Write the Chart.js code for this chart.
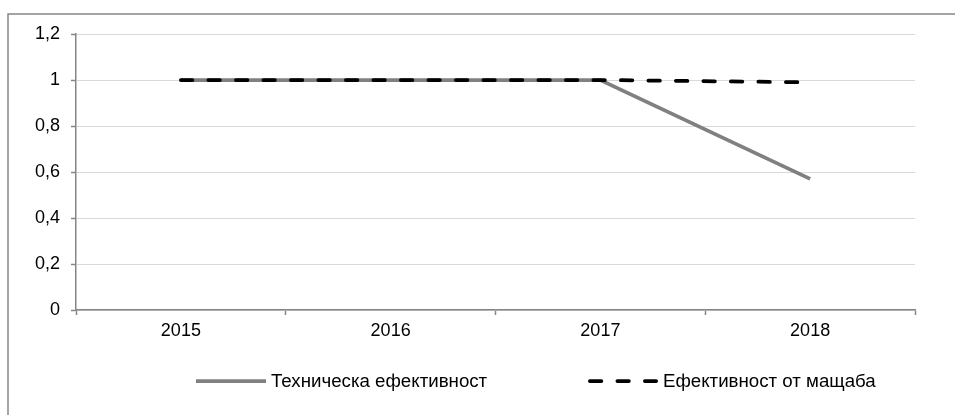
<!DOCTYPE html>
<html>
<head>
<meta charset="utf-8">
<script src="https://cdn.jsdelivr.net/npm/chart.js@4"></script>
<style>
  html, body { margin: 0; padding: 0; background: #ffffff; }
  #wrap { width: 955px; height: 415px; }
</style>
</head>
<body>
<div id="wrap"><canvas id="c" width="955" height="415"></canvas></div>
<script>
// Efficiency scores by year
const years = ['2015', '2016', '2017', '2018'];
const technicalEfficiency = [1, 1, 1, 0.57];
const scaleEfficiency = [1, 1, 1, 0.99];
const yTickLabels = ['0', '0,2', '0,4', '0,6', '0,8', '1', '1,2'];
const seriesNames = ['Техническа ефективност', 'Ефективност от мащаба'];

const FONT = '"Liberation Sans", Arial, sans-serif';
const AXIS = '#868686';

// Outer frame and bottom legend, drawn on the canvas after the chart
const frameAndLegend = {
  id: 'frameAndLegend',
  afterDraw(chart) {
    const ctx = chart.ctx;
    ctx.save();
    ctx.strokeStyle = AXIS;
    ctx.lineWidth = 1.5;
    ctx.strokeRect(8, 14, 1000, 500);

    ctx.font = '18.7px ' + FONT;
    ctx.fillStyle = '#000';
    ctx.textBaseline = 'middle';
    const y = 381;
    const items = [
      { ds: chart.data.datasets[0], x: 196 },
      { ds: chart.data.datasets[1], x: 588 }
    ];
    items.forEach(it => {
      ctx.save();
      ctx.strokeStyle = it.ds.borderColor;
      ctx.lineWidth = it.ds.borderWidth;
      ctx.lineCap = it.ds.borderCapStyle || 'butt';
      ctx.setLineDash(it.ds.borderDash || []);
      ctx.beginPath();
      const cap = ctx.lineCap === 'round' ? it.ds.borderWidth / 2 : 0;
      ctx.moveTo(it.x + cap, y);
      ctx.lineTo(it.x + 70 - cap, y);
      ctx.stroke();
      ctx.restore();
      ctx.fillText(it.ds.label, it.x + 75, y + 1);
    });
    ctx.restore();
  }
};

new Chart(document.getElementById('c'), {
  type: 'line',
  data: {
    labels: years,
    datasets: [
      {
        label: seriesNames[0],
        data: technicalEfficiency,
        borderColor: '#808080',
        borderWidth: 3.75,
        pointRadius: 0,
        tension: 0,
        order: 1
      },
      {
        label: seriesNames[1],
        data: scaleEfficiency,
        borderColor: '#000000',
        borderWidth: 3.75,
        borderDash: [11.5, 16],
        borderCapStyle: 'round',
        pointRadius: 0,
        tension: 0,
        order: 0
      }
    ]
  },
  options: {
    responsive: false,
    animation: false,
    devicePixelRatio: 1,
    layout: { padding: { top: 34, right: 40, left: 0, bottom: 0 } },
    plugins: {
      legend: { display: false },
      title: { display: false },
      tooltip: { enabled: false }
    },
    scales: {
      x: {
        type: 'category',
        offset: true,
        grid: {
          offset: true,
          drawOnChartArea: false,
          tickLength: 5,
          tickColor: AXIS,
          tickWidth: 1.5
        },
        border: { color: AXIS, width: 1.5 },
        ticks: {
          color: '#000',
          font: { size: 18, family: FONT },
          padding: 5,
          maxRotation: 0
        },
        afterFit(scale) { scale.height = 105; }
      },
      y: {
        min: 0,
        max: 1.2,
        ticks: {
          stepSize: 0.2,
          color: '#000',
          font: { size: 18, family: FONT },
          padding: 11,
          callback: (v, i) => yTickLabels[i]
        },
        grid: {
          color: '#d9d9d9',
          lineWidth: 1,
          tickLength: 5,
          tickColor: AXIS,
          tickWidth: 1.5
        },
        border: { color: AXIS, width: 1.5 },
        afterFit(scale) { scale.width = 76; }
      }
    }
  },
  plugins: [frameAndLegend]
});
</script>
</body>
</html>
